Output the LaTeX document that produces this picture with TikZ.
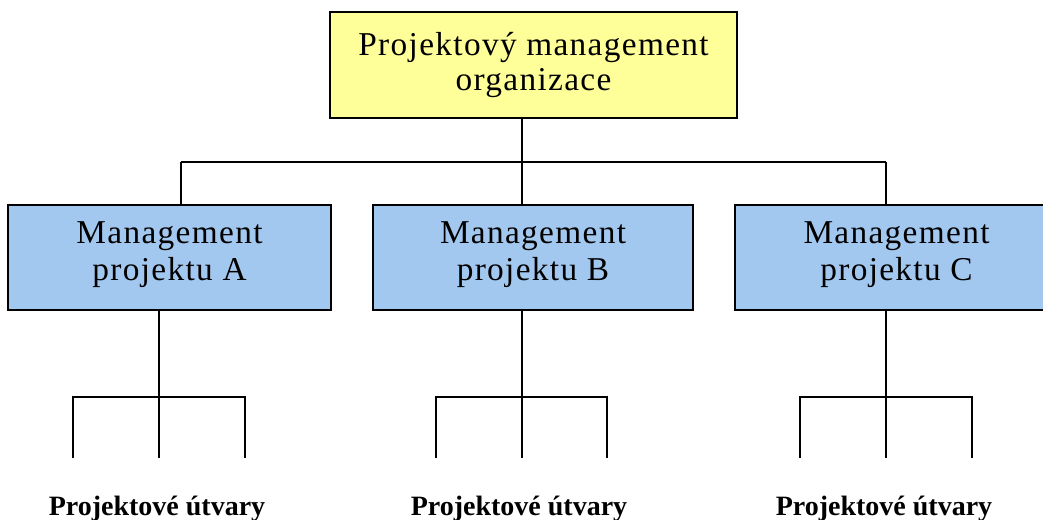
\documentclass[tikz,border=0pt]{standalone}
\usepackage{fontspec}
\setmainfont{Liberation Serif}
\newfontfamily\boxfont[LetterSpace=4]{Liberation Serif}
\definecolor{orgyellow}{RGB}{255,255,153}
\definecolor{projblue}{RGB}{163,200,240}
\tikzset{
  orgbox/.style={draw=black,line width=1.3pt,fill=orgyellow,minimum width=305.25pt,minimum height=79.5pt,inner sep=0pt,align=center,font=\boxfont\fontsize{25}{26}\selectfont},
  projbox/.style={draw=black,line width=1.3pt,fill=projblue,minimum height=78.75pt,inner sep=0pt,text depth=10pt,align=center,font=\boxfont\fontsize{25}{28}\selectfont},
  unitlabel/.style={anchor=base,font=\bfseries\fontsize{21}{24}\selectfont},
  link/.style={black,line width=1.1pt},
}
\begin{document}
\begin{tikzpicture}[x=0.75pt,y=-0.75pt]
	\useasboundingbox (0,0) rectangle (1043,519);
	% boxes
	\node[orgbox](top) at (533.5,65){Projektový management\\organizace};
	\node[projbox,minimum width=242.25pt](pA) at (169.5,257.5){Management\\projektu A};
	\node[projbox,minimum width=240pt](pB) at (533,257.5){Management\\projektu B};
	\node[projbox,minimum width=242.25pt](pC) at (896.5,257.5){Management\\projektu C};
	% labels
	\node[unitlabel](uA) at (157,515){Projektové útvary};
	\node[unitlabel](uB) at (519,515){Projektové útvary};
	\node[unitlabel](uC) at (884,515){Projektové útvary};
	% top level connectors
	\coordinate(hub) at (522,162);
	\coordinate(jA) at (181,162);
	\coordinate(jC) at (886,162);
	\draw[link](top.south -| hub)--(hub)--(pB.north -| hub);
	\draw[link](jA)--(jC);
	\draw[link](jA)--(pA.north -| jA);
	\draw[link](jC)--(pC.north -| jC);
	% project A
	\coordinate(sA) at (159,397);
	\coordinate(dA1) at (73,458);
	\coordinate(dA2) at (159,458);
	\coordinate(dA3) at (245,458);
	\draw[link](pA.south -| sA)--(dA2);
	\draw[link](dA1)--(dA1 |- sA)--(dA3 |- sA)--(dA3);
	% project B
	\coordinate(sB) at (522,397);
	\coordinate(dB1) at (436,458);
	\coordinate(dB2) at (522,458);
	\coordinate(dB3) at (607,458);
	\draw[link](pB.south -| sB)--(dB2);
	\draw[link](dB1)--(dB1 |- sB)--(dB3 |- sB)--(dB3);
	% project C
	\coordinate(sC) at (886,397);
	\coordinate(dC1) at (800,458);
	\coordinate(dC2) at (886,458);
	\coordinate(dC3) at (972,458);
	\draw[link](pC.south -| sC)--(dC2);
	\draw[link](dC1)--(dC1 |- sC)--(dC3 |- sC)--(dC3);
\end{tikzpicture}
\end{document}
